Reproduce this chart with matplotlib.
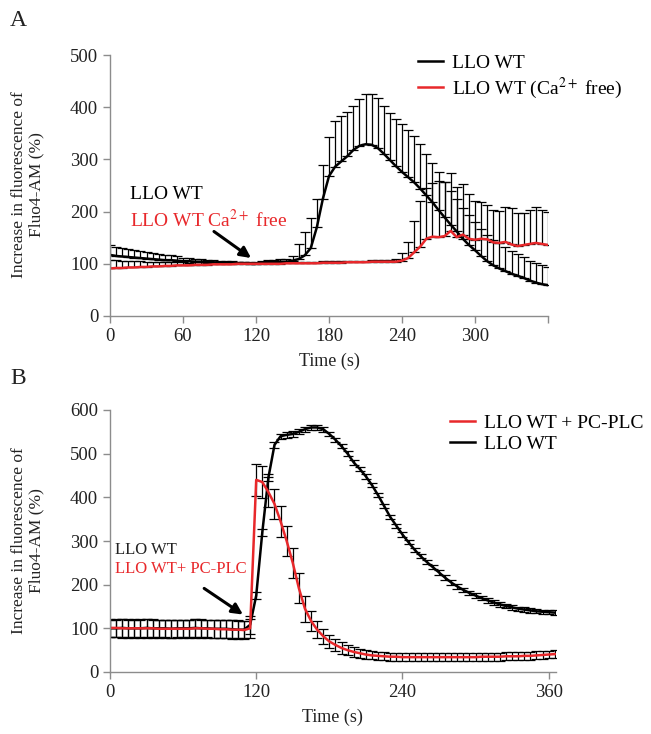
import numpy as np
import matplotlib
matplotlib.use('Agg')
import matplotlib.pyplot as plt

plt.rcParams['font.family'] = ['Liberation Serif', 'DejaVu Serif']
plt.rcParams['mathtext.fontset'] = 'stix'

# ---- Panel A data (time in s, % increase) ----
time_a = np.arange(0, 361, 5)
wt_a = [117, 115, 114, 113, 112, 111, 110, 109, 108, 107, 107, 106, 105,
        105, 104, 104, 103, 103, 102, 102, 102, 101, 101, 100, 100,
        102, 103, 103, 104, 104, 106, 109, 116, 130, 170, 225, 268,
        286, 296, 306, 318, 326, 329, 328, 322, 311, 299, 287, 276,
        266, 256, 244, 231, 218, 203, 189, 175, 162, 148, 136, 126,
        115, 105, 97, 91, 86, 81, 77, 73, 68, 64, 61, 59]
wt_a_err = [19, 18, 17, 16, 15, 14, 13, 12, 11, 10, 9, 8, 7,
            6, 6, 5, 5, 4, 4, 4, 3, 3, 3, 2, 2,
            3, 4, 4, 5, 6, 8, 28, 45, 57, 55, 65, 75,
            88, 87, 85, 84, 90, 97, 97, 95, 92, 89, 90, 91,
            90, 89, 85, 80, 76, 72, 68, 65, 62, 59, 57, 55,
            52, 50, 49, 48, 46, 44, 42, 40, 38, 37, 36, 35]
ca_free = [91, 92, 92, 93, 93, 94, 94, 95, 95, 96, 96, 97, 97,
           97, 98, 98, 98, 99, 99, 99, 99, 100, 100, 100, 100,
           100, 100, 100, 100, 101, 101, 101, 101, 101, 101, 102, 102,
           102, 102, 103, 103, 103, 103, 104, 104, 104, 104, 104, 106,
           111, 122, 133, 148, 152, 151, 153, 163, 151, 156, 148, 146,
           148, 147, 141, 140, 142, 137, 134, 136, 138, 140, 138, 136]
ca_free_err = [16, 15, 14, 13, 12, 11, 10, 9, 8, 7, 7, 6, 6,
               5, 5, 5, 4, 4, 4, 3, 3, 3, 3, 3, 3,
               3, 3, 3, 3, 3, 3, 3, 3, 3, 3, 3, 3,
               3, 3, 3, 3, 3, 3, 3, 4, 4, 4, 5, 15,
               30, 60, 88, 98, 102, 108, 104, 110, 97, 96, 86, 74,
               70, 66, 62, 62, 66, 69, 64, 61, 66, 68, 66, 64]

# ---- Panel B data ----
time_b = np.arange(0, 366, 5)
plc = [101, 101, 100, 100, 100, 100, 100, 100, 99, 99, 99, 99,
       99, 99, 100, 100, 99, 99, 98, 98, 97, 97, 96, 100,
       440, 435, 412, 385, 345, 300, 250, 192, 145, 117, 97, 82,
       70, 62, 55, 50, 46, 43, 40, 38, 37, 36, 35, 35,
       34, 34, 34, 34, 34, 34, 34, 34, 34, 34, 34, 34,
       34, 35, 35, 35, 35, 36, 36, 36, 37, 37, 38, 39,
       40, 41]
plc_err = [21] * 24 + [37, 37, 35, 35, 35, 35, 35, 34, 30, 22, 19, 17,
                       15, 14, 13, 12, 11, 10, 10, 9, 9, 9, 9, 9] + [9] * 26
wt_b = [100, 100, 101, 100, 100, 100, 101, 100, 100, 100, 99, 100,
        100, 100, 101, 100, 100, 99, 99, 99, 98, 97, 97, 108,
        175, 320, 445, 520, 540, 543, 545, 550, 556, 560, 560, 556,
        545, 532, 517, 500, 480, 465, 448, 428, 405, 380, 355, 335,
        315, 297, 280, 265, 252, 240, 228, 216, 205, 196, 188, 181,
        175, 169, 164, 159, 155, 151, 148, 145, 143, 141, 139, 138,
        137, 136]
wt_b_err = [20] * 24 + [8, 8, 8, 7, 6, 6, 6, 6, 6, 6, 6, 6] + [5] * 38

red = '#e8282b'
grey = '#8c8c8c'
txt = '#222222'
bar_kw = dict(fmt='none', ecolor='k', elinewidth=0.9, capsize=3.5, capthick=0.9)

fig = plt.figure(figsize=(6.51, 7.34), dpi=100)
axA = fig.add_axes([110/651, 1-316/734, 438/651, 261/734])
axB = fig.add_axes([110/651, 1-672/734, 445.7/651, 262/734])


def style(ax):
    for s in ['top', 'right']:
        ax.spines[s].set_visible(False)
    for s in ['left', 'bottom']:
        ax.spines[s].set_color(grey)
        ax.spines[s].set_linewidth(1.0)
    ax.tick_params(colors=grey, labelcolor=txt, labelsize=13.5, length=5, width=1)


# Panel A
zA = np.zeros(len(time_a))
axA.errorbar(time_a, wt_a, yerr=[zA, wt_a_err], **bar_kw)
axA.errorbar(time_a, ca_free, yerr=[zA, ca_free_err], **bar_kw)
axA.plot(time_a, wt_a, color='k', lw=1.8, label='LLO WT')
axA.plot(time_a, ca_free, color=red, lw=1.8, label='LLO WT (Ca$^{2+}$ free)')
axA.set_xlim(0, 360)
axA.set_ylim(0, 500)
axA.set_xticks([0, 60, 120, 180, 240, 300, 360])
axA.set_xticklabels(['0', '60', '120', '180', '240', '300', ''])
axA.set_yticks(range(0, 501, 100))
style(axA)
axA.set_xlabel('Time (s)', fontsize=13, color=txt, labelpad=6)
axA.legend(loc='upper left', bbox_to_anchor=(418/651, 1-54/734),
           bbox_transform=fig.transFigure, frameon=False, fontsize=14,
           handlelength=1.3, handletextpad=0.45, labelspacing=0.2,
           borderpad=0, borderaxespad=0)
axA.text(16.5, 232, 'LLO WT', color='k', fontsize=14, va='center')
axA.text(16.5, 184, 'LLO WT Ca$^{2+}$ free', color=red, fontsize=14, va='center')
axA.annotate('', xy=(117.8, 108), xytext=(83.6, 165),
             arrowprops=dict(arrowstyle='-|>', color='k', lw=2.2, mutation_scale=16))

# Panel B
axB.errorbar(time_b, wt_b, yerr=wt_b_err, **bar_kw)
axB.errorbar(time_b, plc, yerr=plc_err, **bar_kw)
axB.plot(time_b, wt_b, color='k', lw=1.8, label='LLO WT')
axB.plot(time_b, plc, color=red, lw=1.8, label='LLO WT + PC-PLC')
axB.set_xlim(0, 365.8)
axB.set_ylim(0, 600)
axB.set_xticks([0, 120, 240, 360])
axB.set_yticks(range(0, 601, 100))
style(axB)
axB.set_xlabel('Time (s)', fontsize=13, color=txt, labelpad=6)
h, l = axB.get_legend_handles_labels()
axB.legend([h[1], h[0]], [l[1], l[0]], loc='upper left',
           bbox_to_anchor=(450/651, 1-414/734), bbox_transform=fig.transFigure,
           frameon=False, fontsize=14, handlelength=1.3, handletextpad=0.45,
           labelspacing=0.2, borderpad=0, borderaxespad=0)
axB.text(4, 279, 'LLO WT', color=txt, fontsize=12, va='center')
axB.text(4, 236, 'LLO WT+ PC-PLC', color=red, fontsize=12, va='center')
axB.annotate('', xy=(111, 128), xytext=(75.4, 195),
             arrowprops=dict(arrowstyle='-|>', color='k', lw=2.2, mutation_scale=16))

# y labels and panel letters
ylab = 'Increase in fluorescence of\nFluo4-AM (%)'
fig.text(28/651, 1-185/734, ylab, rotation=90, ha='center', va='center',
         fontsize=12.5, color=txt, multialignment='center', linespacing=1.1)
fig.text(28/651, 1-541/734, ylab, rotation=90, ha='center', va='center',
         fontsize=12.5, color=txt, multialignment='center', linespacing=1.1)
fig.text(10/651, 1-20/734, 'A', fontsize=17, va='center', color=txt)
fig.text(10/651, 1-378/734, 'B', fontsize=17, va='center', color=txt)

fig.savefig('out.png', dpi=100)
